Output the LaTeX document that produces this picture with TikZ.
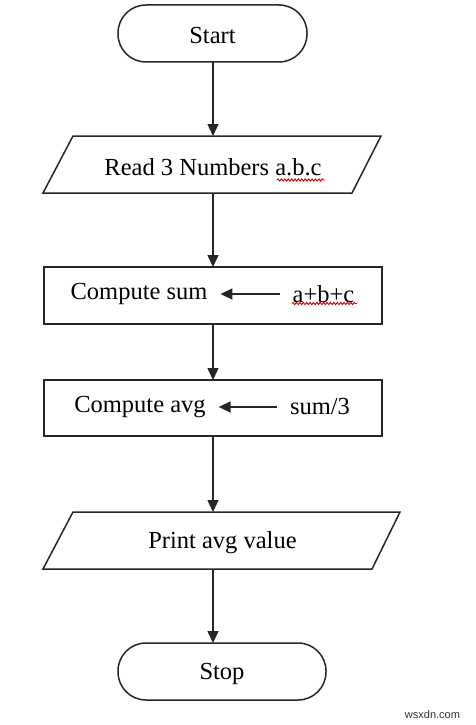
\documentclass[tikz,border=0pt]{standalone}
\usepackage{fontspec}
\setmainfont{Liberation Serif}
\newfontfamily\wmfont{Liberation Sans}
\usetikzlibrary{arrows.meta,calc,decorations.pathmorphing}
\begin{document}
\begin{tikzpicture}[x=1pt,y=-1pt,
  every node/.style={font=\fontsize{24.5}{29}\selectfont},
  ln/.style={line width=1.5pt,draw=black!85},
  arr/.style={ln,-{Triangle[width=11pt,length=12pt]}},
  term/.style={draw=black!85,line width=1.5pt,rectangle,rounded corners=28pt,minimum height=57pt,inner sep=0pt,outer sep=0pt},
  iobody/.style={rectangle,minimum height=57pt,inner sep=0pt,outer sep=0pt},
  procbox/.style={draw=black!85,line width=1.5pt,rectangle,minimum width=338pt,inner sep=0pt,outer sep=0pt},
  lbl/.style={inner ysep=0pt,inner xsep=13pt,outer sep=0pt},
  txt/.style={inner sep=0pt},
  wavy/.style={draw=red!80!black,line width=0.9pt,decorate,decoration={snake,amplitude=1.1pt,segment length=3.4pt}}
]
\useasboundingbox (0,0) rectangle (475,725);

% start
\node[term,minimum width=189pt] (start) at (212.5,33.5) {};
\node[txt] (starttxt) at (212.5,36) {Start};

% read
\node[iobody,minimum width=308pt] (read) at (212,164.5) {};
\draw[ln] ($(read.north west)+(15,0)$) -- ($(read.north east)+(15,0)$) -- ($(read.south east)+(-14,0)$) -- ($(read.south west)+(-15,0)$) -- cycle;
\node[txt] (readtxt) at (213,167) {Read 3 Numbers a.b.c};
\coordinate (w1a) at (277,180);
\coordinate (w1b) at (325,180);
\draw[wavy] (w1a) -- (w1b);

% compute sum
\node[procbox,minimum height=57pt] (sum) at (213,295.5) {};
\node[lbl] (sumlbl) at (139,294) {Compute sum};
\node[lbl] (sumexp) at (323.5,294) {a+b+c};
\coordinate (w2a) at (292,303.5);
\coordinate (w2b) at (357,303.5);
\draw[wavy] (w2a) -- (w2b);
\draw[arr] (sumexp.west) -- (sumlbl.east);

% compute avg
\node[procbox,minimum height=56pt] (avg) at (213,408) {};
\node[lbl] (avglbl) at (140,407) {Compute avg};
\node[lbl] (avgexp) at (320,407) {sum/3};
\draw[arr] (avgexp.west) -- (avglbl.east);

% print
\node[iobody,minimum width=327pt] (print) at (221.5,540.5) {};
\draw[ln] ($(print.north west)+(15,0)$) -- ($(print.north east)+(15,0)$) -- ($(print.south east)+(-13,0)$) -- ($(print.south west)+(-15,0)$) -- cycle;
\node[txt] (printtxt) at (222.5,543) {Print avg value};

% stop
\node[term,minimum width=208pt] (stop) at (222,671.5) {};
\node[txt] (stoptxt) at (222,674) {Stop};

% connectors
\draw[arr] (start.south -| sum.north) -- (read.north -| sum.north);
\draw[arr] (read.south -| sum.north) -- (sum.north);
\draw[arr] (sum.south) -- (avg.north);
\draw[arr] (avg.south) -- (print.north -| avg.south);
\draw[arr] (print.south -| avg.south) -- (stop.north -| avg.south);

% watermark
\node[txt,font=\wmfont\fontsize{11}{13}\selectfont,text=black!80] (wm) at (432.5,715) {wsxdn.com};
\end{tikzpicture}
\end{document}
